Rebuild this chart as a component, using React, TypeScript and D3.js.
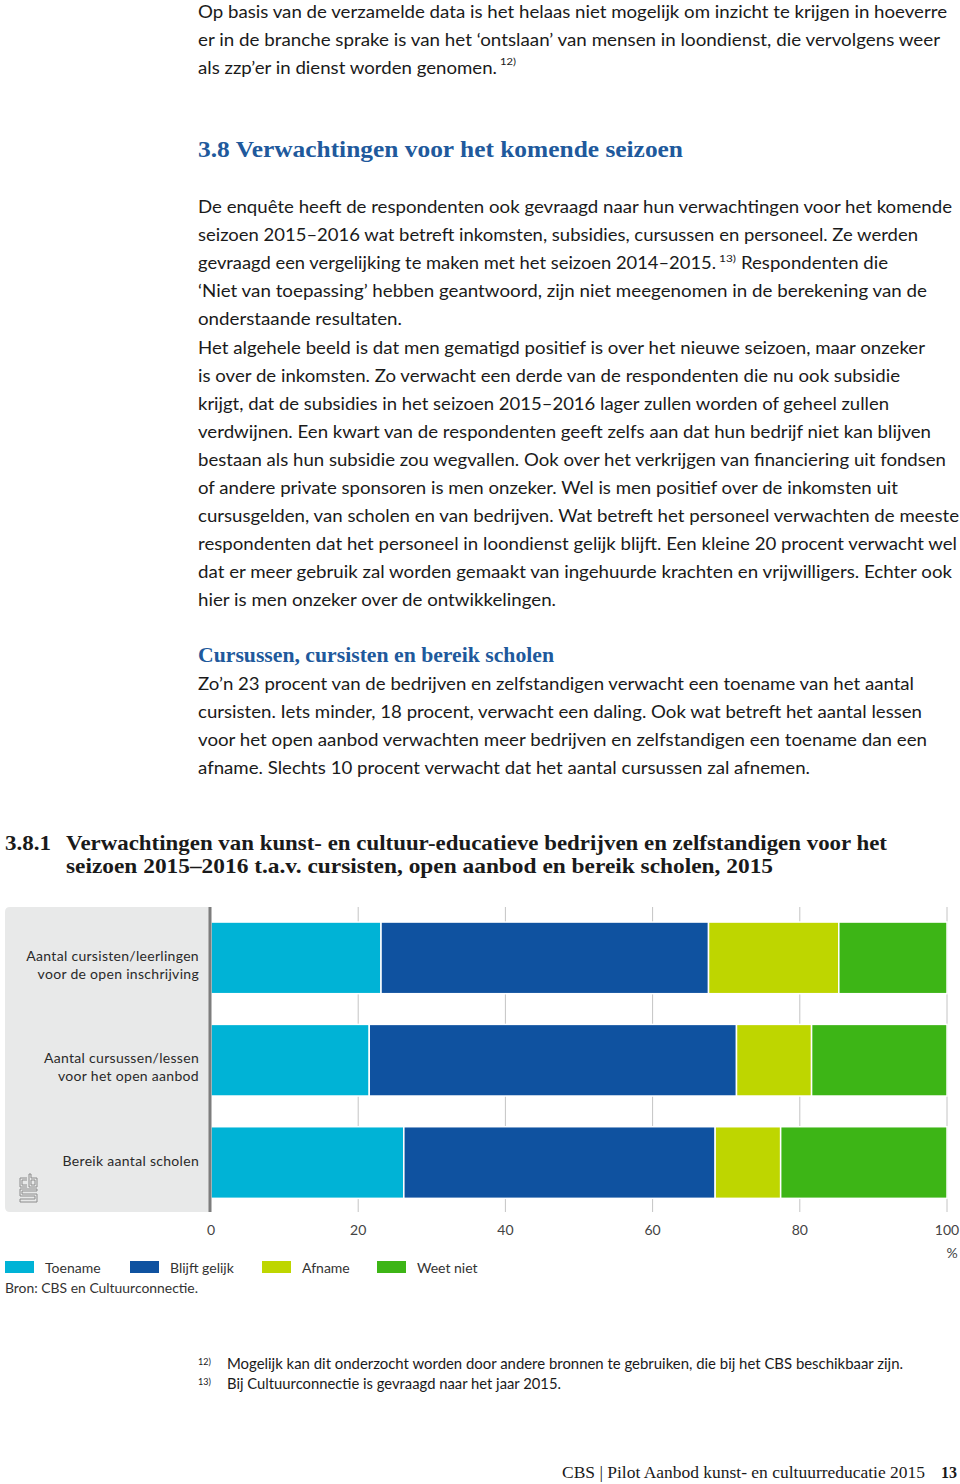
import React from "react";
import * as d3 from "d3";

// ---------- chart data ----------
const categories = [
  "Aantal cursisten/leerlingen|voor de open inschrijving",
  "Aantal cursussen/lessen|voor het open aanbod",
  "Bereik aantal scholen",
];
const seriesNames = ["Toename", "Blijft gelijk", "Afname", "Weet niet"];
const toename = [23.1, 21.5, 26.2];
const blijftGelijk = [44.5, 49.9, 42.3];
const afname = [17.7, 10.2, 8.9];
const weetNiet = [14.7, 18.4, 22.6];
const tickValues = [0, 20, 40, 60, 80, 100];
const seriesColors = ["#00b3d6", "#0f52a0", "#bed600", "#3db516"];

// ---------- page text ----------
const para1 = [
  "Op basis van de verzamelde data is het helaas niet mogelijk om inzicht te krijgen in hoeverre",
  "er in de branche sprake is van het ‘ontslaan’ van mensen in loondienst, die vervolgens weer",
  "als zzp’er in dienst worden genomen.",
];
const para1Ends = [947, 940, 497];
const heading38 = "3.8  Verwachtingen voor het komende seizoen";
const para2 = [
  "De enquête heeft de respondenten ook gevraagd naar hun verwachtingen voor het komende",
  "seizoen 2015–2016 wat betreft inkomsten, subsidies, cursussen en personeel. Ze werden",
  "gevraagd een vergelijking te maken met het seizoen 2014–2015.",
  "‘Niet van toepassing’ hebben geantwoord, zijn niet meegenomen in de berekening van de",
  "onderstaande resultaten.",
  "Het algehele beeld is dat men gematigd positief is over het nieuwe seizoen, maar onzeker",
  "is over de inkomsten. Zo verwacht een derde van de respondenten die nu ook subsidie",
  "krijgt, dat de subsidies in het seizoen 2015–2016 lager zullen worden of geheel zullen",
  "verdwijnen. Een kwart van de respondenten geeft zelfs aan dat hun bedrijf niet kan blijven",
  "bestaan als hun subsidie zou wegvallen. Ook over het verkrijgen van financiering uit fondsen",
  "of andere private sponsoren is men onzeker. Wel is men positief over de inkomsten uit",
  "cursusgelden, van scholen en van bedrijven. Wat betreft het personeel verwachten de meeste",
  "respondenten dat het personeel in loondienst gelijk blijft. Een kleine 20 procent verwacht wel",
  "dat er meer gebruik zal worden gemaakt van ingehuurde krachten en vrijwilligers. Echter ook",
  "hier is men onzeker over de ontwikkelingen.",
];
const para2Ends = [952, 918, 716, 927, 402, 925, 900, 889, 931, 946, 898, 959, 957, 952, 556];
const para2Tail = "Respondenten die";
const subheading = "Cursussen, cursisten en bereik scholen";
const para3 = [
  "Zo’n 23 procent van de bedrijven en zelfstandigen verwacht een toename van het aantal",
  "cursisten. Iets minder, 18 procent, verwacht een daling. Ook wat betreft het aantal lessen",
  "voor het open aanbod verwachten meer bedrijven en zelfstandigen een toename dan een",
  "afname. Slechts 10 procent verwacht dat het aantal cursussen zal afnemen.",
];
const para3Ends = [914, 922, 927, 810];
const titleNum = "3.8.1";
const titleLines = [
  "Verwachtingen van kunst- en cultuur-educatieve bedrijven en zelfstandigen voor het",
  "seizoen 2015–2016 t.a.v. cursisten, open aanbod en bereik scholen, 2015",
];
const titleEnds = [887, 773];
const sourceText = "Bron: CBS en Cultuurconnectie.";
const footnotes = [
  ["12)", "Mogelijk kan dit onderzocht worden door andere bronnen te gebruiken, die bij het CBS beschikbaar zijn."],
  ["13)", "Bij Cultuurconnectie is gevraagd naar het jaar 2015."],
];
const footnoteEnds = [903, 561];
const footerText = "CBS | Pilot Aanbod kunst- en cultuurreducatie 2015";
const pageNum = "13";

const BODY = "Lato, 'Open Sans', sans-serif";
const SERIF = "'Liberation Serif', 'DejaVu Serif', serif";
const TXT = "#1a1a1a";
const BLUE = "#20599c";

export default function App() {
  const x = d3.scaleLinear().domain([0, 100]).range([211, 947]);
  const y = d3
    .scaleBand<string>()
    .domain(categories)
    .range([906.7, 1213.7])
    .paddingInner(0.3)
    .paddingOuter(0.15);

  const rows = categories.map((c, i) => ({
    cat: c,
    "Toename": toename[i],
    "Blijft gelijk": blijftGelijk[i],
    "Afname": afname[i],
    "Weet niet": weetNiet[i],
  }));
  const stacked = d3.stack<any>().keys(seriesNames)(rows);

  const bodyLine = (t: string, x0: number, x1: number, yy: number, k: string) => (
    <text
      key={k}
      x={x0}
      y={yy}
      textLength={x1 - x0}
      lengthAdjust="spacingAndGlyphs"
      fontFamily={BODY}
      fontSize={18}
      fill={TXT}
    >
      {t}
    </text>
  );

  const panelTop = 907;
  const panelBottom = 1212;

  return (
    <svg
      width={960}
      height={1484}
      style={{ position: "absolute", left: 0, top: 0, background: "#fff" }}
    >
      <rect x={0} y={0} width={960} height={1484} fill="#fff" />

      {/* paragraph 1 */}
      {para1.map((t, i) => bodyLine(t, 198, para1Ends[i], 18 + i * 28, "p1" + i))}
      <text x={500} y={65} fontFamily={BODY} fontSize={10} fill={TXT} textLength={16} lengthAdjust="spacingAndGlyphs">12)</text>

      {/* heading 3.8 */}
      <text x={198} y={157} textLength={485} lengthAdjust="spacingAndGlyphs" fontFamily={SERIF} fontWeight="bold" fontSize={23} fill={BLUE}>
        {heading38}
      </text>

      {/* paragraph 2 */}
      {para2.map((t, i) => bodyLine(t, 198, para2Ends[i], 213 + i * 28.1, "p2" + i))}
      <text x={719} y={262} fontFamily={BODY} fontSize={10} fill={TXT} textLength={17} lengthAdjust="spacingAndGlyphs">13)</text>
      {bodyLine(para2Tail, 741, 888, 213 + 2 * 28.1, "p2tail")}

      {/* subheading */}
      <text x={198} y={662} textLength={356} lengthAdjust="spacingAndGlyphs" fontFamily={SERIF} fontWeight="bold" fontSize={20} fill={BLUE}>
        {subheading}
      </text>
      {para3.map((t, i) => bodyLine(t, 198, para3Ends[i], 690 + i * 28, "p3" + i))}

      {/* figure title */}
      <text x={5} y={850} textLength={46} lengthAdjust="spacingAndGlyphs" fontFamily={SERIF} fontWeight="bold" fontSize={21} fill={TXT}>
        {titleNum}
      </text>
      {titleLines.map((t, i) => (
        <text key={"t" + i} x={66} y={850 + i * 23} textLength={titleEnds[i] - 66} lengthAdjust="spacingAndGlyphs" fontFamily={SERIF} fontWeight="bold" fontSize={21} fill={TXT}>
          {t}
        </text>
      ))}

      {/* gray label panel */}
      <path
        d={`M5,${panelTop + 5} Q5,${panelTop} 10,${panelTop} H210 V${panelBottom} H10 Q5,${panelBottom} 5,${panelBottom - 5} Z`}
        fill="#e8e9e9"
      />

      {/* gridlines */}
      {tickValues.filter((v) => v > 0).map((v) => (
        <line key={"g" + v} x1={x(v)} x2={x(v)} y1={panelTop} y2={panelBottom} stroke="#c4c4c4" strokeWidth={1} />
      ))}

      {/* bars */}
      {stacked.map((s, si) => (
        <g key={s.key} fill={seriesColors[si]}>
          {s.map((d, i) => (
            <rect
              key={i}
              x={x(d[0])}
              y={y(categories[i])!}
              width={x(d[1]) - x(d[0])}
              height={y.bandwidth()}
              stroke="#ffffff"
              strokeWidth={1.5}
            />
          ))}
        </g>
      ))}

      {/* axis line */}
      <line x1={210} x2={210} y1={panelTop} y2={panelBottom} stroke="#7d7d7d" strokeWidth={3} />

      {/* category labels */}
      {categories.map((c) => {
        const parts = c.split("|");
        const cy = y(c)! + y.bandwidth() / 2;
        return parts.map((p, j) => (
          <text key={c + j} x={199} y={cy + 3 + j * 18} textAnchor="end" fontFamily={BODY} fontSize={14} fill="#2a2a2a" letterSpacing={0.3}>
            {p}
          </text>
        ));
      })}

      {/* CBS logo */}
      <g fill="none" stroke="#8c8c8c" strokeWidth={1}>
        <path d="M27,1178 H20 V1187 H27 M27,1180 H22 V1185 H27" />
        <path d="M29,1174 V1187 H37 V1178 H31 V1174 Z M31,1180 H35 V1185 H31 Z" />
        <path d="M37,1189 H20 V1196 H35 V1199 H20 V1202 H37 V1194 H22 V1191 H37 Z" />
      </g>

      {/* tick labels */}
      {tickValues.map((v) => (
        <text key={"t" + v} x={x(v)} y={1235} textAnchor="middle" fontFamily={BODY} fontSize={14} fill="#444">
          {v}
        </text>
      ))}
      <text x={952} y={1258} textAnchor="middle" fontFamily={BODY} fontSize={14} fill="#444">%</text>

      {/* legend */}
      {seriesNames.map((n, i) => {
        const lx = [5, 130, 262, 377][i];
        return (
          <g key={n}>
            <rect x={lx} y={1261} width={29} height={12} fill={seriesColors[i]} />
            <text x={lx + 40} y={1273} fontFamily={BODY} fontSize={14} fill="#333">{n}</text>
          </g>
        );
      })}
      <text x={5} y={1293} fontFamily={BODY} fontSize={14} fill="#333" textLength={193} lengthAdjust="spacingAndGlyphs">{sourceText}</text>

      {/* footnotes */}
      {footnotes.map(([n, t], i) => (
        <g key={"fn" + i}>
          <text x={198} y={1365 + i * 20} fontFamily={BODY} fontSize={9} fill={TXT}>{n}</text>
          <text x={227} y={1369 + i * 20} fontFamily={BODY} fontSize={15} fill={TXT} textLength={footnoteEnds[i] - 227} lengthAdjust="spacingAndGlyphs">{t}</text>
        </g>
      ))}

      {/* footer */}
      <text x={562} y={1478} fontFamily={SERIF} fontSize={16} fill={TXT} textLength={363} lengthAdjust="spacingAndGlyphs">{footerText}</text>
      <text x={941} y={1478} fontFamily={SERIF} fontSize={16} fontWeight="bold" fill={TXT}>{pageNum}</text>
    </svg>
  );
}
